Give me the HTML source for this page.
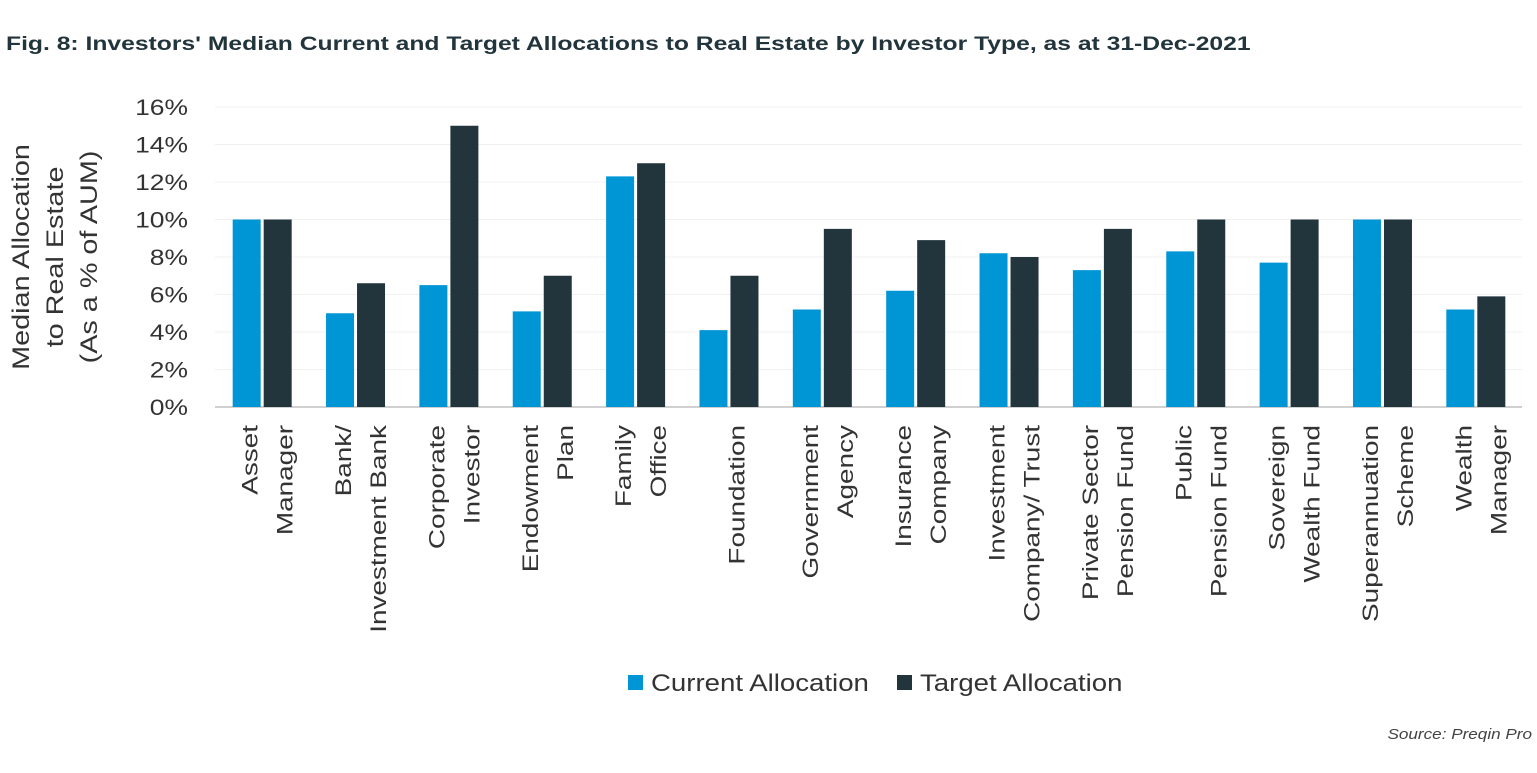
<!DOCTYPE html>
<html><head><meta charset="utf-8"><style>
body{margin:0;background:#fff;width:1537px;height:768px;overflow:hidden;font-family:"Liberation Sans",sans-serif;}
</style></head><body>
<svg width="1537" height="768" xmlns="http://www.w3.org/2000/svg">
<text class="w" data-f="1.265" x="6" y="50" font-size="19.5" font-weight="bold" fill="#22343c">Fig. 8: Investors' Median Current and Target Allocations to Real Estate by Investor Type, as at 31-Dec-2021</text>
<g id="grid"></g>
<g id="bars"></g>
<g id="yt"></g>
<g id="xl"></g>
<g transform="translate(57,257) rotate(-90)" font-size="24" fill="#333" text-anchor="middle">
<text class="w" data-f="1.2" x="0" y="-28">Median Allocation</text><text class="w" data-f="1.2" x="0" y="6">to Real Estate</text><text class="w" data-f="1.2" x="0" y="40">(As a % of AUM)</text></g>
<g font-size="24" fill="#333">
<rect x="628" y="675" width="15" height="15" fill="#0096d6"/>
<text class="w" data-f="1.15" x="651" y="691">Current Allocation</text>
<rect x="897" y="675" width="15" height="15" fill="#22343c"/>
<text class="w" data-f="1.15" x="920" y="691">Target Allocation</text></g>
<text class="w" data-f="1.14" x="1532" y="739" font-size="15" font-style="italic" fill="#444" text-anchor="end">Source: Preqin Pro</text>
</svg>
<script>
const categories=[["Asset","Manager"],["Bank/","Investment Bank"],["Corporate","Investor"],["Endowment","Plan"],["Family","Office"],["Foundation"],["Government","Agency"],["Insurance","Company"],["Investment","Company/ Trust"],["Private Sector","Pension Fund"],["Public","Pension Fund"],["Sovereign","Wealth Fund"],["Superannuation","Scheme"],["Wealth","Manager"]];
const currentVals=[10,5,6.5,5.1,12.3,4.1,5.2,6.2,8.2,7.3,8.3,7.7,10,5.2];
const targetVals=[10,6.6,15,7,13,7,9.5,8.9,8.0,9.5,10,10,10,5.9];
const yTicks=[0,2,4,6,8,10,12,14,16];
const NS="http://www.w3.org/2000/svg";
const x0=215,x1=1522,y0=407,yTop=107;
const bw=(x1-x0)/categories.length;
const y=v=>y0-(v/16)*(y0-yTop);
function mk(t,a,p){const e=document.createElementNS(NS,t);for(const k in a)e.setAttribute(k,a[k]);p.appendChild(e);return e;}
const grid=document.getElementById('grid'),bars=document.getElementById('bars'),yt=document.getElementById('yt'),xl=document.getElementById('xl');
yTicks.forEach(v=>{
 const l=mk('line',{x1:x0,x2:x1,y1:y(v),y2:y(v),stroke:v===0?'#d0d0d0':'#f0f0f0','stroke-width':v===0?2:1},grid);
 
 
 const t=mk('text',{x:188,y:y(v)+8,'font-size':22,fill:'#333','text-anchor':'end',class:'w','data-f':'1.2'},yt);
 t.textContent=v+'%';
 
 
});
categories.forEach((c,i)=>{
 const cx=x0+bw*(i+0.5);
 const r1=mk('rect',{x:cx-29,y:y(currentVals[i]),width:28,height:y0-y(currentVals[i]),fill:'#0096d6'},bars);
 
 
 const r2=mk('rect',{x:cx+2,y:y(targetVals[i]),width:28,height:y0-y(targetVals[i]),fill:'#22343c'},bars);
 
 
 const offs=c.length===1?[16]:[-4,31];
 c.forEach((line,j)=>{
  const t=mk('text',{transform:`translate(${cx+offs[j]},425) rotate(-90)`,'font-size':22.5,fill:'#333','text-anchor':'end',class:'w','data-f':'1.24'},xl);
  t.textContent=line;
  
  
 });
});
document.querySelectorAll('text.w').forEach(t=>{
 const L=t.getComputedTextLength();
 t.setAttribute('textLength',(L*parseFloat(t.getAttribute('data-f'))).toFixed(1));
 t.setAttribute('lengthAdjust','spacingAndGlyphs');
});
</script>
</body></html>
